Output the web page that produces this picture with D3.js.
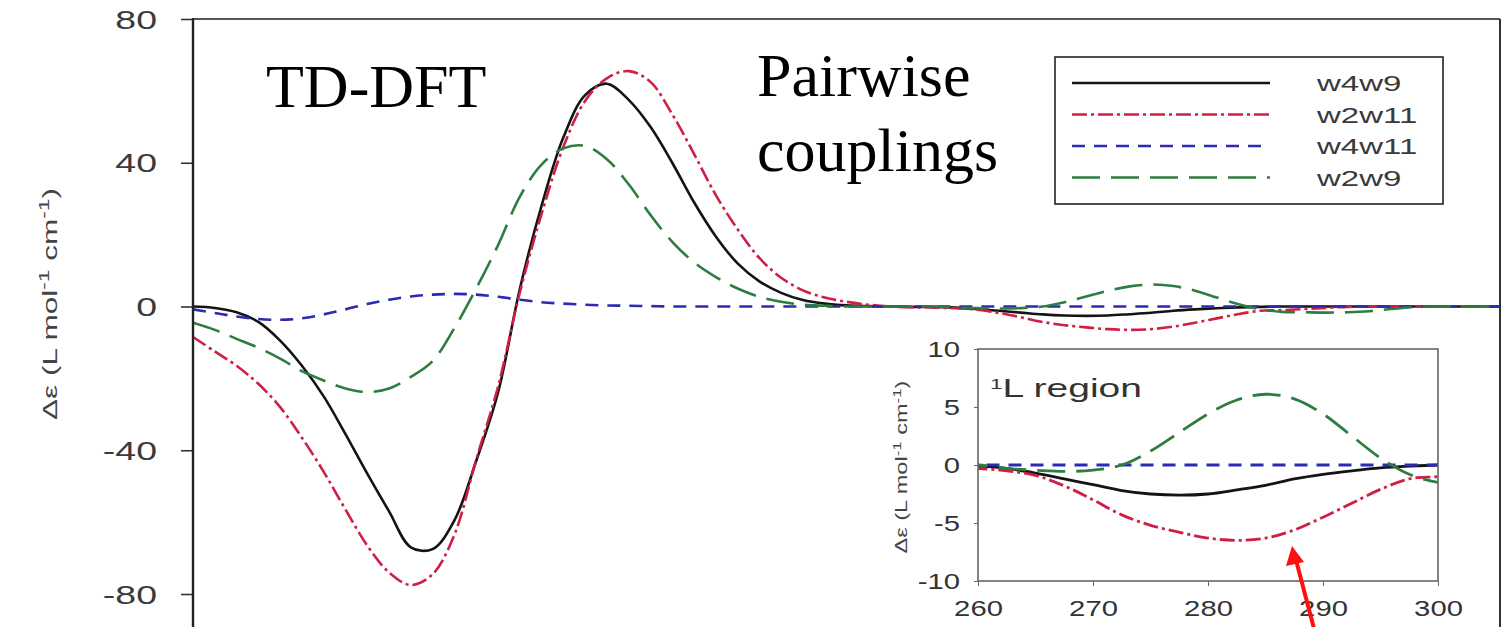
<!DOCTYPE html>
<html><head><meta charset="utf-8">
<script src="https://cdn.jsdelivr.net/npm/d3@7"></script>
<style>body{margin:0;background:#fff;} svg{display:block;}</style>
</head><body>
<svg id="chart" width="1511" height="627"></svg>
<script>
// ---------- data ----------
const wavelength = [175,177.5,180,182.5,185,187.5,190,192.5,195,197.5,
  200,202.5,205,207.5,210,212.5,215,217.5,220,222.5,
  225,227.5,230,232.5,235,237.5,240,242.5,245,247.5,
  250,252.5,255,257.5,260,262.5,265,267.5,270,272.5,
  275,277.5,280,282.5,285,287.5,290,292.5,295,297.5,
  300,302.5,305,307.5,310,312.5,315,317.5,320,322.5,325];
const w4w9 = [0,-0.4,-1.6,-4.3,-9.5,-16.5,-25,-35.5,-46.5,-57,
  -67,-67.5,-59.5,-43,-24,4.8,28,47,58.8,62,
  57.5,50,40,29,19.5,12,7,3.8,1.8,0.8,
  0.3,0.1,0,-0.1,-0.1,-0.3,-0.7,-1.2,-1.7,-2.2,
  -2.5,-2.6,-2.5,-2.15,-1.75,-1.2,-0.8,-0.5,-0.25,-0.1,
  0,0,0,0,0,0,0,0,0,0,0];
const w2w11 = [-8.5,-12.5,-16.5,-21.5,-28,-36.5,-46,-56.5,-66.5,-74,
  -77.5,-74.5,-63.5,-42.6,-22.4,3.8,25.7,44.4,57.2,63.5,
  65.5,62.5,53.5,42.5,31,21.5,13.5,8,4.5,2.5,
  1.3,0.5,0,-0.2,-0.3,-0.5,-0.9,-1.8,-3.0,-4.3,
  -5.2,-5.8,-6.3,-6.5,-6.3,-5.6,-4.5,-3.3,-2.1,-1.2,
  -1.0,-0.7,-0.4,-0.1,0,0,0,0,0,0,0];
const w4w11 = [-0.8,-1.8,-2.8,-3.5,-3.7,-3.3,-2.2,-0.8,0.7,1.9,
  2.8,3.3,3.5,3.3,2.7,1.9,1.2,0.8,0.5,0.3,
  0.2,0.1,0,0,0,0,0,0,0,0,
  0,0,0,0,0,0,0,0,0,0,
  0,0,0,0,0,0,0,0,0,0,
  0,0,0,0,0,0,0,0,0,0,0];
const w2w9 = [-4.5,-6.5,-9,-11.5,-14.5,-18,-20.6,-22.8,-23.8,-22.8,
  -19.6,-15.2,-6,5,17,30.5,39.5,44,44.7,41,
  34,25.5,18,12.3,8.2,5,2.7,1.3,0.5,0.2,
  0,0,0,0,0,-0.3,-0.45,-0.55,-0.45,0,
  1.2,2.8,4.4,5.6,6.1,5.7,4.4,2.5,0.6,-0.8,
  -1.5,-1.6,-1.7,-1.6,-1.3,-0.7,-0.2,0,0,0,0];
const seriesNames = ["w4w9","w2w11","w4w11","w2w9"];
const seriesValues = [w4w9, w2w11, w4w11, w2w9];
const mainYTicks = [-80,-40,0,40,80];
const insetXTicks = [260,270,280,290,300];
const insetYTicks = [-10,-5,0,5,10];

// ---------- styles ----------
const colors = {w4w9:"#141414", w2w11:"#cf1f44", w4w11:"#2a2ab4", w2w9:"#2e7d40"};
const dashes = {w4w9:null, w2w11:"15,4,3,4", w4w11:"13,9", w2w9:"28,11"};
const sansFont = "Liberation Sans, Arial, sans-serif";
const serifFont = "Liberation Serif, Times New Roman, serif";
const hyphenFmt = d => String(d);

const svg = d3.select("#chart");
const series = seriesNames.map((n,i)=>({name:n, pts: wavelength.map((w,j)=>({x:w, y:seriesValues[i][j]}))}));

// ---------- main plot ----------
const x = d3.scaleLinear().domain([175,325]).range([193,1500]);
const y = d3.scaleLinear().domain([-80,80]).range([594,19]);

svg.append("clipPath").attr("id","mainClip").append("rect")
  .attr("x",x(175)).attr("y",y(80)).attr("width",x(325)-x(175)).attr("height",700);

const line = d3.line().x(d=>x(d.x)).y(d=>y(d.y)).curve(d3.curveCatmullRom.alpha(0.5));
svg.append("g").attr("clip-path","url(#mainClip)")
  .selectAll("path").data(series).join("path")
  .attr("d", d=>line(d.pts)).attr("fill","none")
  .attr("stroke", d=>colors[d.name]).attr("stroke-width",2.6)
  .attr("stroke-dasharray", d=>dashes[d.name]);

// frame
svg.append("line").attr("x1",x(175)).attr("x2",x(325)).attr("y1",y(80)).attr("y2",y(80))
  .attr("stroke","#555").attr("stroke-width",2);
svg.append("line").attr("x1",x(325)).attr("x2",x(325)).attr("y1",y(80)).attr("y2",640)
  .attr("stroke","#333").attr("stroke-width",2);

const yAxis = svg.append("g").attr("transform",`translate(${x(175)},0)`)
  .call(d3.axisLeft(y).tickValues(mainYTicks).tickSize(12).tickSizeOuter(0).tickFormat(hyphenFmt));
yAxis.select(".domain").remove();
yAxis.selectAll(".tick line").attr("stroke","#333").attr("stroke-width",1.6);
yAxis.selectAll(".tick text").attr("x",null).attr("dy","0.36em")
  .attr("transform","translate(-36,0) scale(1.5,1)")
  .attr("font-family",sansFont).attr("font-size",25).attr("fill","#3a3a3a").attr("text-anchor","end");
svg.append("line").attr("x1",x(175)).attr("x2",x(175)).attr("y1",y(80)-1).attr("y2",640)
  .attr("stroke","#222").attr("stroke-width",2.4);

// rotated titles with superscripts fitted to a target length
function yTitle(cx, cy, size, target){
  const t = svg.append("text").attr("font-family",sansFont).attr("font-size",size)
    .attr("fill","#444").attr("text-anchor","middle");
  t.append("tspan").text("Δε (L mol");
  t.append("tspan").attr("baseline-shift","super").attr("font-size",size*0.72).text("-1");
  t.append("tspan").text(" cm");
  t.append("tspan").attr("baseline-shift","super").attr("font-size",size*0.72).text("-1");
  t.append("tspan").text(")");
  const len = t.node().getComputedTextLength();
  const s = target/len;
  t.attr("transform",`translate(${cx},${cy}) rotate(-90) scale(${s},1)`);
}
yTitle(57, 304, 20, 232);

// annotations
svg.append("text").attr("x",266).attr("y",107).attr("font-family",serifFont).attr("font-size",62).text("TD-DFT");
svg.append("text").attr("x",757).attr("y",96).attr("font-family",serifFont).attr("font-size",62).text("Pairwise");
svg.append("text").attr("x",757).attr("y",171).attr("font-family",serifFont).attr("font-size",62).text("couplings");

// legend
const lg = svg.append("g");
lg.append("rect").attr("x",1055).attr("y",57).attr("width",388).attr("height",147)
  .attr("fill","#fff").attr("stroke","#222").attr("stroke-width",1.6);
const rows = lg.selectAll("g.row").data(seriesNames).join("g").attr("class","row")
  .attr("transform",(d,i)=>`translate(0,${83+i*31.5})`);
rows.append("line").attr("x1",1072).attr("x2",1270).attr("y1",0).attr("y2",0)
  .attr("stroke",d=>colors[d]).attr("stroke-width",2.6).attr("stroke-dasharray",d=>dashes[d]);
rows.append("text").attr("transform","translate(1317,8) scale(1.5,1)")
  .attr("font-family",sansFont).attr("font-size",22).attr("fill","#3a3a3a").text(d=>d);

// ---------- inset ----------
const ix = d3.scaleLinear().domain([260,300]).range([978,1438]);
const iy = d3.scaleLinear().domain([-10,10]).range([581,349]);
svg.append("rect").attr("x",870).attr("y",335).attr("width",620).attr("height",292).attr("fill","#fff");
svg.append("clipPath").attr("id","insetClip").append("rect")
  .attr("x",ix(260)).attr("y",iy(10)).attr("width",ix(300)-ix(260)).attr("height",iy(-10)-iy(10));
const iline = d3.line().x(d=>ix(d.x)).y(d=>iy(d.y)).curve(d3.curveCatmullRom.alpha(0.5));
svg.append("g").attr("clip-path","url(#insetClip)")
  .selectAll("path").data(series).join("path")
  .attr("d", d=>iline(d.pts.filter(p=>p.x>=255 && p.x<=305))).attr("fill","none")
  .attr("stroke", d=>colors[d.name]).attr("stroke-width",2.8)
  .attr("stroke-dasharray", d=>dashes[d.name]);
svg.append("rect").attr("x",ix(260)).attr("y",iy(10)).attr("width",ix(300)-ix(260)).attr("height",iy(-10)-iy(10))
  .attr("fill","none").attr("stroke","#666").attr("stroke-width",1.6);

const ixAxis = svg.append("g").attr("transform",`translate(0,${iy(-10)})`)
  .call(d3.axisBottom(ix).tickValues(insetXTicks).tickSize(5).tickSizeOuter(0).tickFormat(hyphenFmt));
ixAxis.select(".domain").remove();
ixAxis.selectAll(".tick line").attr("stroke","#666");
ixAxis.selectAll(".tick text").attr("y",null).attr("dy",null)
  .attr("transform","translate(0,35) scale(1.33,1)")
  .attr("font-family",sansFont).attr("font-size",22).attr("fill","#333").attr("text-anchor","middle");

const iyAxis = svg.append("g").attr("transform",`translate(${ix(260)},0)`)
  .call(d3.axisLeft(iy).tickValues(insetYTicks).tickSize(4).tickSizeOuter(0).tickFormat(hyphenFmt));
iyAxis.select(".domain").remove();
iyAxis.selectAll(".tick line").attr("stroke","#666");
iyAxis.selectAll(".tick text").attr("x",null).attr("dy","0.36em")
  .attr("transform","translate(-18,0) scale(1.33,1)")
  .attr("font-family",sansFont).attr("font-size",22).attr("fill","#333").attr("text-anchor","end");

yTitle(907, 467, 16, 173);

const reg = svg.append("text").attr("transform","translate(990,397) scale(1.5,1)")
  .attr("font-family",sansFont).attr("font-size",26).attr("fill","#333");
reg.append("tspan").attr("baseline-shift","super").attr("font-size",15).text("1");
reg.append("tspan").text("L region");

// red arrow
svg.append("line").attr("x1",1317).attr("y1",640).attr("x2",1296).attr("y2",560)
  .attr("stroke","#ff1010").attr("stroke-width",4);
svg.append("path").attr("d","M1292,546 L1286,566 L1304,562 Z").attr("fill","#ff1010");
</script>
</body></html>
